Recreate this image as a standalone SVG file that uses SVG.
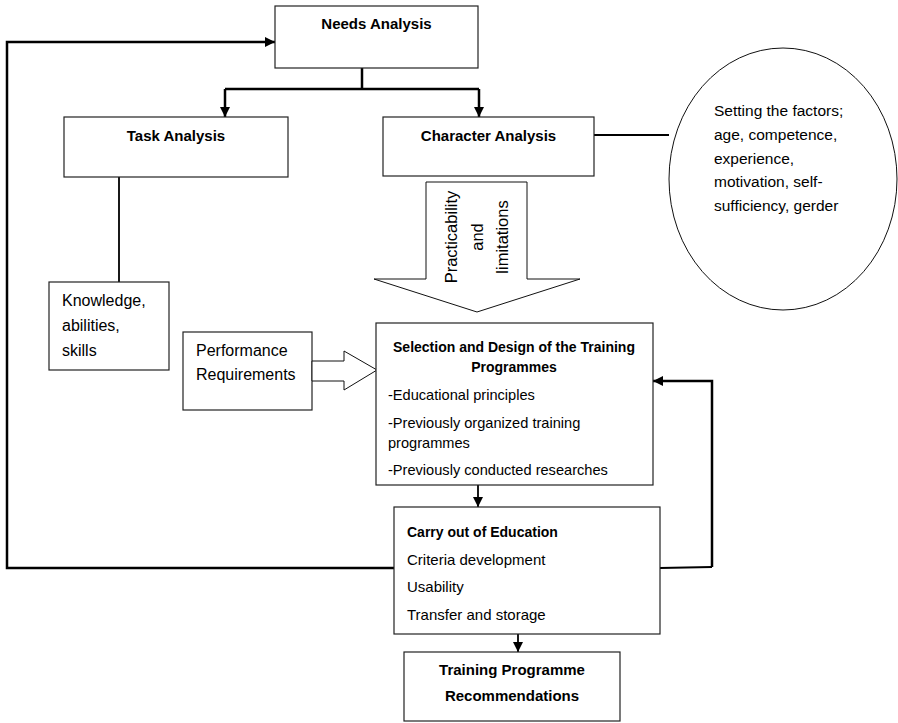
<svg xmlns="http://www.w3.org/2000/svg" width="898" height="723" viewBox="0 0 898 723">
<style>
  .box { fill: #ffffff; stroke: #222; stroke-width: 1.2; }
  .shape { fill: #ffffff; stroke: #111; stroke-width: 1; }
  .conn { fill: none; stroke: #000; stroke-width: 2.5; }
  .thin { fill: none; stroke: #000; stroke-width: 1.8; }
  text { font-family: "Liberation Sans", Arial, sans-serif; fill: #000; }
  .b15 { font-size: 15px; font-weight: bold; text-anchor: middle; }
  .b14 { font-size: 14px; font-weight: bold; }
  .r15 { font-size: 15px; }
  .rc { font-size: 15.5px; }
  .r146 { font-size: 14.6px; }
  .r16 { font-size: 16px; }
  .rot { font-size: 16.5px; text-anchor: middle; }
</style>
<defs>
  <marker id="ah" markerUnits="userSpaceOnUse" markerWidth="11" markerHeight="11" refX="10" refY="5" orient="auto">
    <path d="M0,0 L10,5 L0,10 z" fill="#000"/>
  </marker>
</defs>

<g id="connectors">
  <polyline class="conn" points="362,68 362,89"/>
  <polyline class="conn" points="225,89 479,89"/>
  <polyline class="conn" points="225,89 225,117" marker-end="url(#ah)"/>
  <polyline class="conn" points="479,89 479,117" marker-end="url(#ah)"/>
  <polyline class="thin" points="119,177 119,282"/>
  <polyline class="thin" points="594,135 669,135"/>
  <polyline class="thin" points="478,485 478,507" marker-end="url(#ah)"/>
  <polyline class="thin" points="518,634 518,652" marker-end="url(#ah)"/>
  <polyline class="conn" points="394,568 7,568 7,42 275,42" marker-end="url(#ah)"/>
  <polyline class="thin" points="660,568 712,567"/>
  <polyline class="conn" points="712,567 712,381 653,381" marker-end="url(#ah)"/>
</g>

<g id="needs-analysis">
  <rect class="box" x="275" y="6" width="203" height="62"/>
  <text class="b15" x="376.5" y="29">Needs Analysis</text>
</g>

<g id="task-analysis">
  <rect class="box" x="64" y="117" width="224" height="60"/>
  <text class="b15" x="176" y="141">Task Analysis</text>
</g>

<g id="character-analysis">
  <rect class="box" x="383" y="117" width="211" height="59"/>
  <text class="b15" x="488.5" y="141">Character Analysis</text>
</g>

<g id="factors">
  <ellipse class="shape" cx="783" cy="179" rx="114" ry="131"/>
  <text class="rc" x="714" y="116">Setting the factors;</text>
  <text class="rc" x="714" y="140">age, competence,</text>
  <text class="rc" x="714" y="164">experience,</text>
  <text class="rc" x="714" y="187">motivation, self-</text>
  <text class="rc" x="714" y="211">sufficiency, gerder</text>
</g>

<g id="practicability">
  <polygon class="shape" points="426,182 527,182 527,279 580,279 477,312 374,279 426,279"/>
  <text class="rot" transform="translate(457,237) rotate(-90)">Practicability</text>
  <text class="rot" transform="translate(483,237) rotate(-90)">and</text>
  <text class="rot" transform="translate(508,237) rotate(-90)">limitations</text>
</g>

<g id="knowledge">
  <rect class="box" x="49" y="282" width="120" height="88"/>
  <text class="r16" x="62" y="306">Knowledge,</text>
  <text class="r16" x="62" y="331">abilities,</text>
  <text class="r16" x="62" y="356">skills</text>
</g>

<g id="performance">
  <rect class="box" x="183" y="332" width="129" height="78"/>
  <text class="r16" x="196" y="356">Performance</text>
  <text class="r16" x="196" y="380">Requirements</text>
  <polygon class="shape" points="312,361 344,361 344,351 377,370 344,390 344,381 312,381"/>
</g>

<g id="selection-design">
  <rect class="box" x="376" y="323" width="277" height="162"/>
  <text class="b14" x="514" y="352" text-anchor="middle">Selection and Design of the Training</text>
  <text class="b14" x="514" y="372" text-anchor="middle">Programmes</text>
  <text class="r146" x="388" y="400">-Educational principles</text>
  <text class="r146" x="388" y="428">-Previously organized training</text>
  <text class="r146" x="388" y="448">programmes</text>
  <text class="r146" x="388" y="475">-Previously conducted researches</text>
</g>

<g id="carry-out">
  <rect class="box" x="394" y="507" width="266" height="127"/>
  <text class="b14" x="407" y="537">Carry out of Education</text>
  <text class="r15" x="407" y="565">Criteria development</text>
  <text class="r15" x="407" y="592">Usability</text>
  <text class="r15" x="407" y="620">Transfer and storage</text>
</g>

<g id="recommendations">
  <rect class="box" x="404" y="652" width="216" height="69"/>
  <text class="b15" x="512" y="675">Training Programme</text>
  <text class="b15" x="512" y="701">Recommendations</text>
</g>
</svg>
